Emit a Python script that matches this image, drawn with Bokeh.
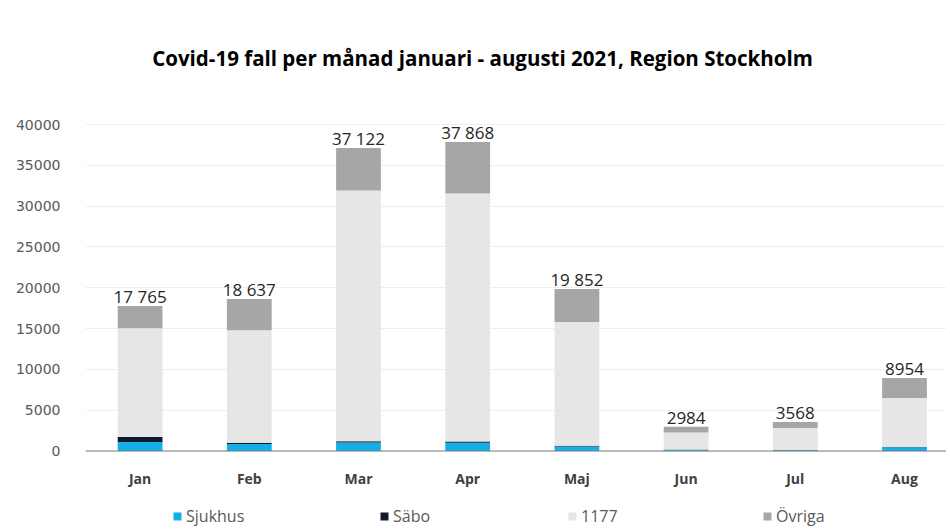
from bokeh.plotting import figure
from bokeh.models import (ColumnDataSource, Range1d, FixedTicker, Legend, LegendItem,
                          LabelSet, Label, Span, NumeralTickFormatter)
from bokeh.embed import file_html
from bokeh.resources import INLINE
from bokeh.core.properties import value

# ---- data ----
months = ["Jan", "Feb", "Mar", "Apr", "Maj", "Jun", "Jul", "Aug"]
sjukhus = [1100, 850, 1050, 1000, 550, 150, 100, 450]
sabo = [600, 150, 150, 150, 100, 30, 30, 50]
r1177 = [13350, 13800, 30700, 30400, 15150, 2100, 2700, 6000]
ovriga = [2715, 3837, 5222, 6318, 4052, 704, 738, 2454]
series_names = ["Sjukhus", "Säbo", "1177", "Övriga"]
y_ticks = [0, 5000, 10000, 15000, 20000, 25000, 30000, 35000, 40000]
title_text = "Covid-19 fall per månad januari - augusti 2021, Region Stockholm"

# ---- style / layout ----
colors = ["#14aee8", "#0f1b2c", "#e6e6e6", "#a6a6a6"]
FONT = "Open Sans"
W, H = 946, 527
LEFT = 85                 # frame left (px)
STEP = 109.2              # px per category
Y0_PX = 450.5             # page y of value 0
PPU = 326.5 / 40000       # px per unit


def fmt(v):
    s = str(int(v))
    if v >= 10000:
        s = s[:-3] + " " + s[-3:]
    return s


xs = list(range(len(months)))
totals = [a + b + c + d for a, b, c, d in zip(sjukhus, sabo, r1177, ovriga)]
source = ColumnDataSource(dict(x=xs, Sjukhus=sjukhus, Säbo=sabo, r1177=r1177,
                               Övriga=ovriga, total=totals, zero=[0] * len(xs),
                               month=months, label=[fmt(t) for t in totals]))

x_end = -0.5 + (W - LEFT) / STEP
y_top = Y0_PX / PPU
y_bot = -(H - Y0_PX) / PPU

p = figure(width=W, height=H, output_backend="svg", toolbar_location=None,
           x_range=Range1d(-0.5, x_end), y_range=Range1d(y_bot, y_top),
           min_border_left=LEFT, min_border_right=0, min_border_top=0,
           min_border_bottom=0)
p.title.visible = False
p.outline_line_color = None
p.background_fill_color = "white"

renderers = p.vbar_stack(["Sjukhus", "Säbo", "r1177", "Övriga"], x="x", width=0.41,
                         color=colors, line_color=None, source=source)

p.add_layout(Span(location=0, dimension="width", line_color="#7f7f7f", line_width=1))

labels = LabelSet(x="x", y="total", text="label", source=source, text_align="center",
                  text_baseline="alphabetic", y_offset=3, text_font=value(FONT),
                  text_font_size="17px", text_color="#262626")
p.add_layout(labels)

mlabels = LabelSet(x="x", y="zero", text="month", source=source, text_align="center",
                   text_baseline="middle", y_offset=-27.5, text_font=value(FONT),
                   text_font_size="14px", text_font_style="bold",
                   text_color="#404040")
p.add_layout(mlabels)

# title
p.add_layout(Label(x=(482 - LEFT) / STEP - 0.5, y=(Y0_PX - 57) / PPU, text=title_text,
                   text_align="center", text_baseline="middle", text_font=FONT,
                   text_font_size="20.5px", text_font_style="bold",
                   text_color="#000000"))

# axes
p.xaxis.visible = False
p.yaxis.ticker = FixedTicker(ticks=y_ticks)
p.yaxis.formatter = NumeralTickFormatter(format="0")
p.yaxis.major_label_text_font = "DejaVu Sans"
p.yaxis.major_label_text_font_size = "14px"
p.yaxis.major_label_text_color = "#595959"
p.yaxis.major_tick_line_color = None
p.yaxis.minor_tick_line_color = None
p.yaxis.axis_line_color = None
p.yaxis.major_label_standoff = 19

p.xgrid.grid_line_color = None
p.ygrid.grid_line_color = "#eeeeee"

# legends (one per item, placed like the reference)
leg_x = [172, 379, 567, 762]
for r, name, lx in zip(renderers, series_names, leg_x):
    leg = Legend(items=[LegendItem(label=name, renderers=[r])], location=(lx - LEFT, 0),
                 orientation="horizontal", padding=0, margin=0, spacing=0,
                 glyph_width=10, glyph_height=10, label_standoff=4, label_height=18,
                 border_line_color=None, background_fill_alpha=0,
                 label_text_font=FONT, label_text_font_size="16px",
                 label_text_color="#595959")
    p.add_layout(leg, "center")

open("out.html", "w").write(file_html(p, INLINE))
